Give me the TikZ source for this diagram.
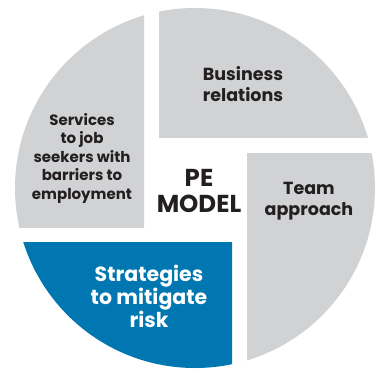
\documentclass[tikz,border=0pt]{standalone}
\usepackage{fontspec}
\setmainfont{Poppins}
\definecolor{peGrey}{HTML}{D1D2D4}
\definecolor{peBlue}{HTML}{0077B0}
\definecolor{peText}{HTML}{231F20}

\begin{document}
\begin{tikzpicture}[
  x=1pt, y=-1pt,
  every node/.style={align=center, font=\bfseries, text=peText, inner sep=0pt},
  ]
  \useasboundingbox (0,0) rectangle (378,368);
  \coordinate (model) at (195,188);
  % four quarters of the disc, each cut by its own rectangle
  \begin{scope}
    \clip (159,0) rectangle (378,137);
    \fill[peGrey] (model) circle[radius=180pt];
  \end{scope}
  \begin{scope}
    \clip (247,153) rectangle (378,368);
    \fill[peGrey] (model) circle[radius=180pt];
  \end{scope}
  \begin{scope}
    \clip (0,242) rectangle (232,368);
    \fill[peBlue] (model) circle[radius=180pt];
  \end{scope}
  \begin{scope}
    \clip (0,0) rectangle (144,227);
    \fill[peGrey] (model) circle[radius=180pt];
  \end{scope}
  % labels
  \node[font=\bfseries\fontsize{17.5}{21}\selectfont] (modelBiz) at (243,84)
    {Business\\relations};
  \node[font=\bfseries\fontsize{17.5}{21}\selectfont] (modelTeam) at (309,201)
    {Team\\approach};
  \node[font=\bfseries\fontsize{20.5}{23}\selectfont, text=white] (modelRisk) at (149,296)
    {Strategies\\to mitigate\\risk};
  \node[font=\bfseries\fontsize{15}{18.5}\selectfont] (modelSeek) at (82,158)
    {Services\\to job\\seekers with\\barriers to\\employment};
  \node[font=\bfseries\fontsize{24.5}{26}\selectfont] (modelName) at (199,191)
    {PE\\MODEL};
\end{tikzpicture}
\end{document}
